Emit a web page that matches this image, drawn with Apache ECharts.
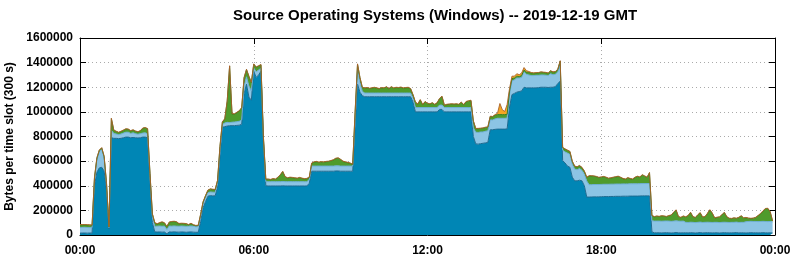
<!DOCTYPE html>
<html>
<head>
<meta charset="utf-8">
<script src="https://cdn.jsdelivr.net/npm/echarts@6/dist/echarts.min.js"></script>
<style>
html,body{margin:0;padding:0;background:#fff;}
#chart{width:795px;height:260px;}
</style>
</head>
<body>
<div id="chart"></div>
<script>
// 300 s time slots, 2019-12-19 (288 slots). Values in bytes per slot.
const SLOT_MINUTES = 5;
const SLOTS_PER_TICK = 72; // 6 hours
const tickLabels = ['00:00', '06:00', '12:00', '18:00', '00:00'];
const seriesNames = ['Windows A', 'Windows B', 'Windows C', 'Windows D'];

const darkBlue = [
15000,16000,16000,15000,16000,15000,400000,510000,545000,550000,
520000,360000,50000,790000,785000,785000,783000,785000,790000,795000,
795000,790000,792000,790000,788000,790000,795000,795000,790000,440000,
100000,25000,24000,25000,23000,24000,10000,25000,24000,26000,
24000,23000,25000,24000,22000,24000,25000,23000,22000,22000,
110000,220000,270000,315000,320000,318000,318000,390000,640000,875000,
880000,885000,888000,888000,888000,890000,892000,900000,1150000,1225000,
1120000,1095000,1330000,1280000,1300000,1330000,760000,400000,398000,398000,
398000,398000,398000,398000,400000,398000,398000,398000,398000,398000,
398000,398000,398000,398000,398000,420000,518000,518000,518000,518000,
518000,518000,518000,518000,518000,518000,520000,520000,518000,518000,
518000,518000,518000,518000,880000,1226000,1160000,1131000,1123000,1123000,
1123000,1123000,1123000,1123000,1123000,1123000,1123000,1123000,1123000,1123000,
1123000,1123000,1123000,1123000,1123000,1123000,1123000,1123000,1080000,1000000,
1000000,1000000,1000000,1000000,1000000,1000000,1000000,1000000,1000000,1020000,
1020000,1000000,1000000,1000000,1000000,1000000,1000000,1000000,1000000,1000000,
1000000,1000000,1000000,800000,740000,738000,742000,745000,748000,752000,
855000,855000,858000,860000,860000,860000,860000,862000,1040000,1140000,
1150000,1160000,1165000,1170000,1200000,1195000,1195000,1195000,1195000,1195000,
1197000,1200000,1200000,1200000,1198000,1200000,1200000,1205000,1230000,1250000,
604000,585000,560000,550000,470000,440000,440000,445000,440000,400000,
308000,308000,309000,310000,310000,310000,311000,312000,312000,312000,
313000,313000,314000,314000,314000,315000,315000,315000,316000,316000,
316000,316000,317000,318000,318000,318000,318000,25000,18000,18000,
18000,17000,18000,19000,18000,16000,18000,20000,18000,17000,
18000,18000,17000,19000,18000,16000,18000,20000,17000,18000,
19000,18000,17000,18000,18000,16000,18000,19000,18000,17000,
18000,18000,20000,17000,18000,18000,16000,18000,19000,18000,
18000,17000,18000,19000,18000,17000,18000,16000
];

const lightBlue = [
45000,46000,47000,46000,44000,45000,50000,100000,130000,145000,
105000,45000,10000,60000,40000,35000,32000,35000,38000,40000,
40000,35000,38000,33000,30000,33000,33000,35000,32000,35000,
45000,45000,48000,48000,48000,48000,35000,48000,48000,48000,
48000,48000,48000,48000,48000,48000,48000,48000,45000,46000,
40000,35000,33000,28000,30000,30000,28000,30000,40000,22000,
30000,30000,25000,28000,30000,30000,32000,35000,60000,60000,
90000,75000,25000,45000,40000,25000,20000,32000,35000,35000,
35000,35000,35000,35000,35000,35000,35000,35000,35000,35000,
35000,35000,35000,35000,35000,30000,42000,42000,42000,42000,
42000,42000,42000,42000,42000,42000,42000,42000,42000,42000,
42000,42000,42000,42000,60000,110000,80000,35000,30000,30000,
30000,30000,30000,30000,30000,30000,30000,30000,30000,30000,
30000,30000,30000,30000,30000,30000,30000,30000,30000,35000,
35000,35000,35000,35000,35000,35000,35000,35000,35000,35000,
35000,35000,35000,35000,35000,35000,35000,35000,35000,35000,
35000,35000,35000,70000,95000,95000,95000,92000,95000,95000,
80000,80000,85000,88000,88000,88000,88000,88000,100000,110000,
110000,115000,110000,110000,125000,110000,105000,100000,100000,102000,
100000,100000,100000,98000,97000,110000,102000,100000,95000,130000,
85000,90000,105000,105000,105000,95000,90000,95000,85000,95000,
130000,100000,100000,100000,100000,100000,100000,100000,100000,100000,
100000,100000,100000,100000,100000,100000,100000,100000,100000,100000,
100000,100000,100000,100000,100000,100000,100000,90000,95000,95000,
95000,95000,95000,95000,95000,95000,95000,95000,95000,95000,
95000,85000,85000,85000,85000,85000,85000,85000,85000,85000,
85000,85000,85000,85000,85000,85000,85000,85000,85000,85000,
85000,85000,85000,85000,85000,85000,92000,92000,92000,92000,
92000,92000,92000,92000,92000,92000,92000,90000
];

const green = [
22000,20000,19000,20000,20000,18000,15000,15000,12000,12000,
12000,12000,5000,95000,25000,20000,17000,20000,22000,25000,
23000,20000,22000,19000,18000,22000,38000,40000,40000,25000,
25000,27000,17000,25000,33000,25000,22000,30000,35000,35000,
33000,20000,20000,20000,20000,10000,20000,10000,8000,9000,
17000,12000,14000,19000,22000,21000,21000,22000,37000,20000,
32000,172000,459000,66000,64000,74000,83000,97000,67000,58000,
77000,67000,32000,37000,32000,27000,17000,20000,19000,16000,
22000,19000,34000,54000,79000,39000,29000,34000,32000,29000,
26000,32000,26000,22000,24000,17000,22000,32000,35000,29000,
33000,31000,35000,37000,42000,49000,59000,62000,52000,37000,
32000,27000,22000,12000,57000,51000,38000,31000,39000,42000,
36000,40000,44000,39000,34000,42000,39000,49000,34000,49000,
39000,44000,42000,46000,39000,42000,44000,34000,27000,42000,
27000,62000,22000,47000,32000,28000,37000,24000,37000,52000,
70000,17000,24000,26000,28000,26000,28000,24000,42000,22000,
47000,52000,57000,55000,28000,30000,28000,30000,30000,28000,
27000,25000,30000,30000,30000,30000,30000,30000,30000,20000,
15000,15000,12000,15000,15000,18000,20000,20000,18000,18000,
20000,22000,20000,20000,18000,22000,20000,20000,20000,33000,
20000,22000,22000,22000,22000,22000,22000,22000,22000,22000,
29000,71000,70000,67000,63000,56000,58000,61000,55000,47000,
49000,54000,57000,61000,53000,42000,37000,48000,41000,36000,
51000,59000,52000,69000,59000,49000,87000,42000,34000,39000,
36000,42000,39000,34000,42000,49000,69000,87000,34000,29000,
39000,42000,54000,78000,44000,39000,59000,74000,42000,44000,
69000,100000,74000,34000,39000,44000,59000,78000,44000,32000,
29000,34000,29000,39000,51000,34000,32000,25000,22000,25000,
31000,47000,62000,82000,102000,106000,77000,6000
];

const orange = [
3000,3000,3000,3000,3000,3000,3000,3000,3000,3000,
3000,3000,3000,3000,3000,3000,3000,3000,3000,3000,
3000,3000,3000,3000,3000,3000,3000,3000,3000,3000,
3000,3000,3000,3000,3000,3000,3000,3000,3000,3000,
3000,3000,3000,3000,3000,3000,3000,3000,3000,3000,
3000,3000,3000,3000,3000,3000,3000,3000,3000,3000,
3000,3000,3000,3000,3000,3000,3000,3000,3000,3000,
3000,3000,3000,3000,3000,3000,3000,3000,3000,3000,
3000,3000,3000,3000,3000,3000,3000,3000,3000,3000,
3000,3000,3000,3000,3000,3000,3000,3000,3000,3000,
3000,3000,3000,3000,3000,3000,3000,3000,3000,3000,
3000,3000,3000,3000,3000,3000,3000,3000,3000,3000,
3000,3000,3000,3000,3000,3000,3000,3000,3000,3000,
3000,3000,3000,3000,3000,3000,3000,3000,3000,3000,
3000,3000,3000,3000,3000,3000,3000,3000,3000,3000,
3000,3000,3000,3000,3000,3000,3000,3000,3000,3000,
3000,3000,3000,3000,3000,3000,3000,3000,3000,3000,
3000,3000,5000,10000,90000,40000,25000,80000,20000,20000,
15000,20000,15000,20000,20000,12000,8000,5000,4000,4000,
3000,3000,3000,3000,3000,3000,3000,3000,3000,3000,
3000,3000,3000,3000,3000,3000,3000,3000,3000,3000,
3000,3000,3000,3000,3000,3000,3000,3000,3000,3000,
3000,3000,3000,3000,3000,3000,3000,3000,3000,3000,
3000,3000,3000,3000,3000,3000,3000,3000,3000,3000,
3000,3000,3000,3000,3000,3000,3000,3000,3000,3000,
3000,3000,3000,3000,3000,3000,3000,3000,3000,3000,
3000,3000,3000,3000,3000,3000,3000,3000,3000,3000,
3000,3000,3000,3000,3000,3000,3000,3000,3000,3000,
3000,3000,3000,3000,3000,3000,3000,3000
];

const FONT = "'Liberation Sans', Arial, sans-serif";
const fills = ['#0086b5', '#8cc4e4', '#4f9b2c', '#f5a623'];
const edges = ['#1d6a90', '#6caed6', '#3c7e20', '#a8622a'];
const values = [darkBlue, lightBlue, green, orange];

// slot start times: 00:00 ... 24:00 (289 category positions)
const slotTimes = [];
for (let i = 0; i <= darkBlue.length; i++) {
  const m = i * SLOT_MINUTES;
  const h = Math.floor(m / 60), mm = m % 60;
  slotTimes.push((h < 10 ? '0' : '') + h + ':' + (mm < 10 ? '0' : '') + mm);
}
const onTick = (idx) => idx % SLOTS_PER_TICK === 0;

const chart = echarts.init(document.getElementById('chart'), null, {renderer: 'canvas'});
const series = values.map((arr, k) => ({
  name: seriesNames[k],
  type: 'line',
  stack: 'total',
  symbol: 'none',
  showSymbol: false,
  sampling: 'none',
  animation: false,
  xAxisIndex: 0,
  yAxisIndex: 0,
  lineStyle: {color: edges[k], width: k === 3 ? 0.9 : 1},
  itemStyle: {color: fills[k]},
  areaStyle: {color: fills[k], opacity: 1},
  data: arr
}));

const axisText = {color: '#000', fontFamily: FONT, fontWeight: 'bold', fontSize: 12};
chart.setOption({
  animation: false,
  backgroundColor: '#fff',
  title: {
    text: 'Source Operating Systems (Windows) -- 2019-12-19 GMT',
    left: 228, top: 3,
    textStyle: {fontFamily: FONT, fontWeight: 'bold', fontSize: 15, color: '#000'}
  },
  grid: {left: 80, right: 20, top: 38, bottom: 25, containLabel: false, outerBoundsMode: 'none'},
  xAxis: [{
    type: 'category', position: 'bottom', data: slotTimes, boundaryGap: false,
    axisLine: {show: true, lineStyle: {color: '#000', width: 1}},
    axisTick: {show: true, inside: true, length: 6, interval: onTick, lineStyle: {color: '#000'}},
    axisLabel: Object.assign({margin: 10, interval: onTick, showMinLabel: true, showMaxLabel: true,
      formatter: (v, idx) => tickLabels[Math.round(idx / SLOTS_PER_TICK)]}, axisText),
    splitLine: {show: true, interval: onTick, lineStyle: {color: '#aaa', type: [1, 3], width: 1}}
  }, {
    type: 'category', position: 'top', data: slotTimes, boundaryGap: false,
    axisLine: {show: true, onZero: false, lineStyle: {color: '#000', width: 1}},
    axisTick: {show: true, inside: true, length: 6, interval: onTick, lineStyle: {color: '#000'}},
    axisLabel: {show: false}, splitLine: {show: false}
  }],
  yAxis: [{
    type: 'value', position: 'left', min: 0, max: 1600000, interval: 200000,
    name: 'Bytes per time slot (300 s)', nameLocation: 'middle', nameGap: 59,
    nameTextStyle: {fontFamily: FONT, fontWeight: 'bold', fontSize: 12, color: '#000'},
    axisLine: {show: true, lineStyle: {color: '#000', width: 1}},
    axisTick: {show: true, inside: true, length: 6, lineStyle: {color: '#000'}},
    axisLabel: Object.assign({margin: 7, formatter: v => String(v)}, axisText),
    splitLine: {show: true, lineStyle: {color: '#aaa', type: [1, 3], width: 1}}
  }, {
    type: 'value', position: 'right', min: 0, max: 1600000, interval: 200000,
    axisLine: {show: true, onZero: false, lineStyle: {color: '#000', width: 1}},
    axisTick: {show: true, inside: true, length: 6, lineStyle: {color: '#000'}},
    axisLabel: {show: false}, splitLine: {show: false}
  }],
  series: series
});
</script>
</body>
</html>
